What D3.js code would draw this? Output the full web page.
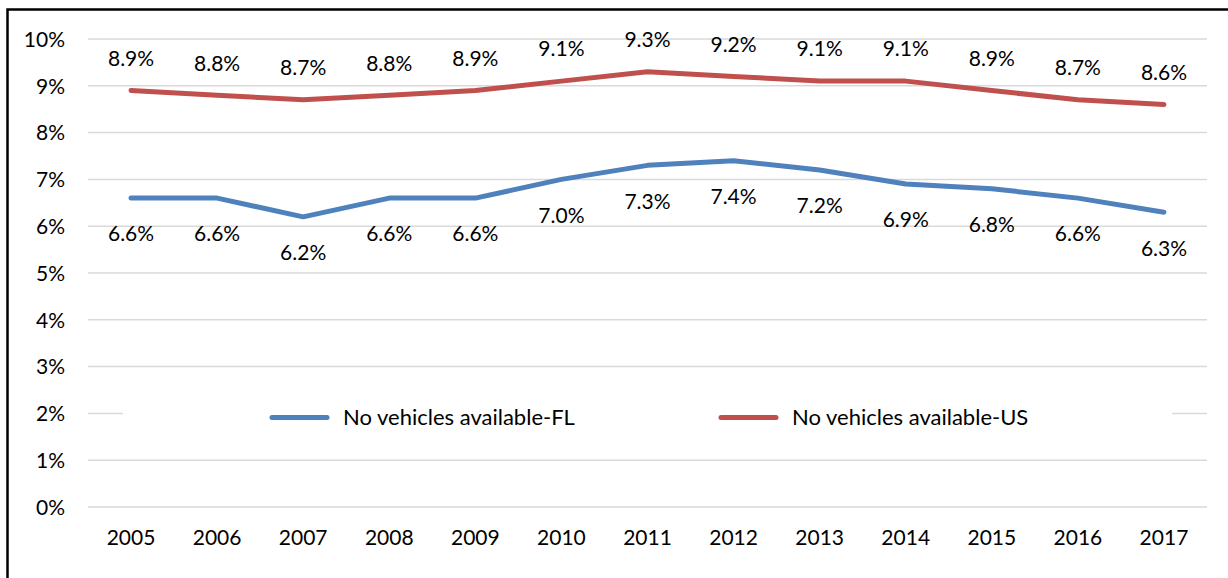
<!DOCTYPE html>
<html>
<head>
<meta charset="utf-8">
<script src="https://cdn.jsdelivr.net/npm/d3@7"></script>
<style>
  body { margin: 0; background: #fff; }
  text { font-family: Lato, "Open Sans", sans-serif; fill: #000; }
</style>
</head>
<body>
<div id="chart"></div>
<script>
var years = ["2005","2006","2007","2008","2009","2010","2011","2012","2013","2014","2015","2016","2017"];
var flValues = [6.6, 6.6, 6.2, 6.6, 6.6, 7.0, 7.3, 7.4, 7.2, 6.9, 6.8, 6.6, 6.3];
var usValues = [8.9, 8.8, 8.7, 8.8, 8.9, 9.1, 9.3, 9.2, 9.1, 9.1, 8.9, 8.7, 8.6];
var yTicks = [0,1,2,3,4,5,6,7,8,9,10];
var seriesNames = ["No vehicles available-FL", "No vehicles available-US"];

var W = 1228, H = 578;
var margin = { top: 39, right: 21, bottom: 71, left: 88 };
var width = W - margin.left - margin.right,
    height = H - margin.top - margin.bottom;

var svg = d3.select("#chart")
  .append("svg")
  .attr("width", W)
  .attr("height", H);

// outer frame (only top and left edges show in the picture)
svg.append("rect")
  .attr("x", 7.5).attr("y", 9.5)
  .attr("width", W + 20).attr("height", H + 20)
  .attr("fill", "none")
  .attr("stroke", "#000")
  .attr("stroke-width", 2.5);

var g = svg.append("g")
  .attr("transform", "translate(" + margin.left + "," + margin.top + ")");

var x = d3.scaleBand()
  .domain(years)
  .range([0, width]);

var y = d3.scaleLinear()
  .domain([0, 10])
  .range([height, 0]);

// gridlines
g.selectAll(".grid")
  .data(yTicks)
  .enter()
  .append("line")
    .attr("x1", 0)
    .attr("x2", width)
    .attr("y1", function(d){ return y(d); })
    .attr("y2", function(d){ return y(d); })
    .attr("stroke", "#d9d9d9")
    .attr("stroke-width", 1.5);

// y axis labels
var yAxis = d3.axisLeft(y)
  .tickValues(yTicks)
  .tickSize(0)
  .tickPadding(23)
  .tickFormat(function(d){ return d + "%"; });

g.append("g")
  .call(yAxis)
  .call(function(s){ s.select(".domain").remove(); })
  .selectAll("text")
    .style("font-size", "21px")
    .attr("dy", "0.35em");

// x axis labels
var xAxis = d3.axisBottom(x)
  .tickSize(0)
  .tickPadding(23);

g.append("g")
  .attr("transform", "translate(0," + height + ")")
  .call(xAxis)
  .call(function(s){ s.select(".domain").remove(); })
  .selectAll("text")
    .style("font-size", "21px");

// legend background hides the 2% gridline
g.append("rect")
  .attr("x", 35)
  .attr("y", y(2) - 22)
  .attr("width", 1049)
  .attr("height", 44)
  .attr("fill", "#fff");

var line = d3.line()
  .x(function(d, i){ return x(years[i]) + x.bandwidth() / 2; })
  .y(function(d){ return y(d); });

var series = [
  { name: seriesNames[0], values: flValues, color: "#4f81bd", dy: 36 },
  { name: seriesNames[1], values: usValues, color: "#c0504d", dy: -32 }
];

series.forEach(function(s){
  g.append("path")
    .datum(s.values)
    .attr("d", line)
    .attr("fill", "none")
    .attr("stroke", s.color)
    .attr("stroke-width", 5)
    .attr("stroke-linecap", "round")
    .attr("stroke-linejoin", "round");

  g.selectAll(".lbl-" + s.color.slice(1))
    .data(s.values)
    .enter()
    .append("text")
      .attr("x", function(d, i){ return x(years[i]) + x.bandwidth() / 2; })
      .attr("y", function(d){ return y(d) + s.dy; })
      .attr("text-anchor", "middle")
      .attr("dy", "0.35em")
      .style("font-size", "21px")
      .text(function(d){ return d.toFixed(1) + "%"; });
});

// legend
var legendX = [184, 633];
series.forEach(function(s, i){
  g.append("line")
    .attr("x1", legendX[i])
    .attr("x2", legendX[i] + 55)
    .attr("y1", y(2) + 4)
    .attr("y2", y(2) + 4)
    .attr("stroke", s.color)
    .attr("stroke-width", 5)
    .attr("stroke-linecap", "round");

  g.append("text")
    .attr("x", legendX[i] + 71)
    .attr("y", y(2) + 4)
    .attr("dy", "0.35em")
    .style("font-size", "22px")
    .text(s.name);
});
</script>
</body>
</html>
